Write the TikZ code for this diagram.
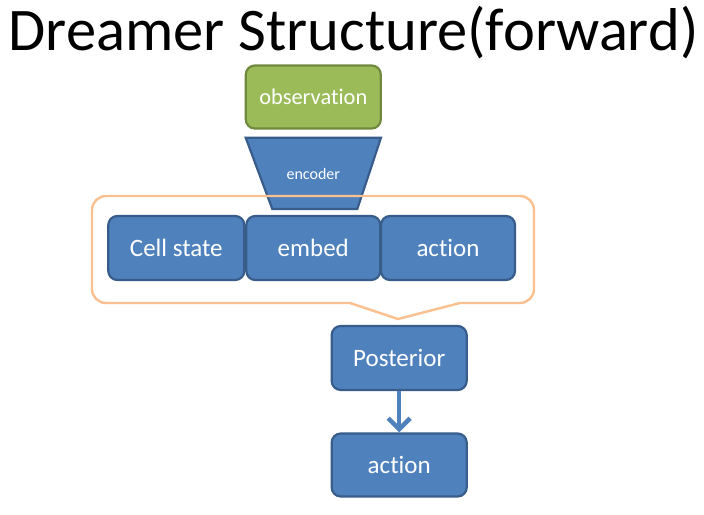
\documentclass[tikz,border=0pt]{standalone}
\usepackage{fontspec}
\setmainfont{Carlito}[Ligatures={NoCommon}]
\usetikzlibrary{arrows.meta}
\definecolor{bfill}{HTML}{4F81BD}
\definecolor{bline}{HTML}{385D8A}
\definecolor{gfill}{HTML}{9BBB59}
\definecolor{gline}{HTML}{71893F}
\definecolor{orng}{HTML}{FAC090}
\tikzset{
  bbox/.style={draw=bline, fill=bfill, line width=2.2pt, rounded corners=9pt,
    text=white, font=\fontsize{25}{29}\selectfont, inner sep=0pt},
  gbox/.style={draw=gline, fill=gfill, line width=2.2pt, rounded corners=9pt,
    text=white, font=\fontsize{22.4}{26}\selectfont, inner sep=0pt},
  flowarrow/.style={draw=bfill, line width=4.5pt, -{Straight Barb[length=11pt,width=22pt,line width=4.5pt]}}
}
\begin{document}
\begin{tikzpicture}[x=1pt,y=-1pt]
\useasboundingbox (0,0) rectangle (704,514);
\fill[white] (0,0) rectangle (704,514);
% title
\node[anchor=base, inner sep=0pt, font=\fontsize{60.5}{70}\selectfont] (title) at (353.5,50) {Dreamer Structure(forward)};
% observation
\node[gbox, minimum width=135pt, minimum height=63pt] (obs) at (313.3,97) {observation};
% encoder
\draw[draw=bline, fill=bfill, line width=2.2pt, line join=miter]
  (245.7,137.7) -- (381,137.7) -- (357.3,209) -- (272.3,209) -- cycle;
\node[text=white, font=\fontsize{16}{19}\selectfont, inner sep=0pt] (enc) at (313.3,174) {encoder};
% callout
\draw[draw=orng, line width=2.4pt]
  (106,196) -- (520,196) arc(-90:0:14) -- (534,289) arc(0:90:14)
  -- (460,303) -- (398,319) -- (350,303) -- (106,303) arc(90:180:14)
  -- (92,210) arc(180:270:14) -- cycle;
% boxes
\node[bbox, minimum width=136pt, minimum height=64pt] (cell) at (176.3,248) {Cell state};
\node[bbox, minimum width=134pt, minimum height=64pt] (embed) at (313.3,248) {embed};
\node[bbox, minimum width=134pt, minimum height=64pt] (act1) at (448,248) {action};
\node[bbox, minimum width=135pt, minimum height=64pt] (post) at (399.2,358) {Posterior};
\node[bbox, minimum width=135pt, minimum height=63pt] (act2) at (399.2,465) {action};
\draw[flowarrow] (post.south) -- (act2.north);
\end{tikzpicture}
\end{document}
